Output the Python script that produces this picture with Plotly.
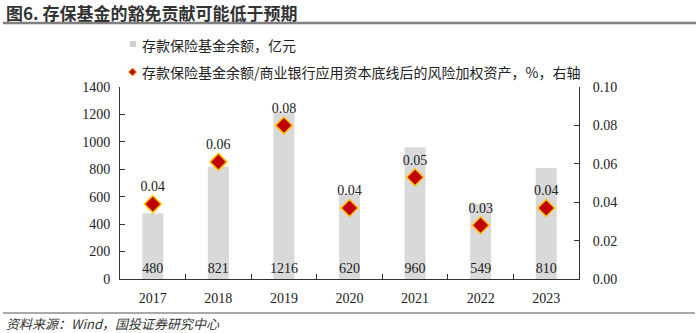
import plotly.graph_objects as go

# Data
years = ["2017", "2018", "2019", "2020", "2021", "2022", "2023"]
fund_balance = [480, 821, 1216, 620, 960, 549, 810]          # 亿元
fund_ratio = [0.039, 0.061, 0.080, 0.037, 0.053, 0.028, 0.037]  # %, right axis

bar_name = "存款保险基金余额，亿元"
ratio_name = "存款保险基金余额/商业银行应用资本底线后的风险加权资产，%，右轴"
title_text = "图6. 存保基金的豁免贡献可能低于预期"
source_text = "资料来源：Wind，国投证券研究中心"

W, H = 700, 333
ML, MR, MT, MB = 120, 121, 87, 54
PW = W - ML - MR
PH = H - MT - MB

BAR_COLOR = "#d9d9d9"
DIAMOND_FILL = "#c00000"
DIAMOND_EDGE = "#ffc000"


def px_x(p):
    return (p - ML) / PW


def px_y(p):
    return (H - MB - p) / PH


SERIF = "Liberation Serif, Times New Roman, serif"
CJK = "Noto Sans CJK SC, sans-serif"

fig = go.Figure()

fig.add_trace(go.Bar(
    x=years, y=fund_balance, name=bar_name,
    marker=dict(color=BAR_COLOR, line=dict(width=0)),
    width=0.32,
    text=[str(v) for v in fund_balance],
    textposition="inside", insidetextanchor="start", textangle=0,
    constraintext="none",
    textfont=dict(family=SERIF, size=14, color="#222222"),
    showlegend=False,
))

fig.add_trace(go.Scatter(
    x=years, y=fund_ratio, name=ratio_name, yaxis="y2",
    mode="markers+text",
    marker=dict(symbol="diamond", size=13, color=DIAMOND_FILL,
                line=dict(color=DIAMOND_EDGE, width=1.5)),
    texttemplate="%{y:.2f}", textposition="top center",
    textfont=dict(family=SERIF, size=14, color="#222222"),
    showlegend=False,
))

axis_common = dict(
    showgrid=False, zeroline=False,
    showline=True, linecolor="#333333", linewidth=1,
    ticks="inside", ticklen=5, tickcolor="#333333",
    tickfont=dict(family=SERIF, size=14, color="#222222"),
)

fig.update_layout(
    width=W, height=H,
    margin=dict(l=ML, r=MR, t=MT, b=MB, pad=0),
    paper_bgcolor="white", plot_bgcolor="white",
    showlegend=False,
    xaxis=dict(type="category", tickson="boundaries",
               ticklabelstandoff=6, **axis_common),
    yaxis=dict(range=[0, 1400], dtick=200, ticklabelstandoff=6,
               **axis_common),
    yaxis2=dict(range=[0, 0.10], dtick=0.02, tickformat=".2f",
                overlaying="y", side="right", ticklabelstandoff=10,
                **axis_common),
)

# Legend entries
legend_font = dict(family=CJK, size=14, color="#222222")
fig.add_shape(type="rect", xref="paper", yref="paper",
              x0=px_x(130), x1=px_x(136), y0=px_y(47), y1=px_y(41),
              fillcolor="#cfcfcf", line=dict(width=0))
fig.add_annotation(x=px_x(140), y=px_y(45), xref="paper", yref="paper",
                   xanchor="left", yanchor="middle", showarrow=False,
                   text=bar_name, font=legend_font)

cx, cy, r = 132.5, 72, 4
dpath = "M{},{} L{},{} L{},{} L{},{} Z".format(
    px_x(cx), px_y(cy - r), px_x(cx + r), px_y(cy),
    px_x(cx), px_y(cy + r), px_x(cx - r), px_y(cy))
fig.add_shape(type="path", xref="paper", yref="paper", path=dpath,
              fillcolor=DIAMOND_FILL, line=dict(color=DIAMOND_EDGE, width=1))
fig.add_annotation(x=px_x(140), y=px_y(72), xref="paper", yref="paper",
                   xanchor="left", yanchor="middle", showarrow=False,
                   text=ratio_name, font=legend_font)

# Title and source text
fig.add_annotation(
    x=px_x(4), y=px_y(12), xref="paper", yref="paper",
    xanchor="left", yanchor="middle", showarrow=False,
    text="<b>" + title_text + "</b>",
    font=dict(family=CJK, size=17, color="#333333"),
)
fig.add_annotation(
    x=px_x(4), y=px_y(323), xref="paper", yref="paper",
    xanchor="left", yanchor="middle", showarrow=False,
    text="<i>" + source_text + "</i>",
    font=dict(family=CJK, size=13, color="#333333"),
)

# Rules under the title and above the source
fig.add_shape(type="line", xref="paper", yref="paper",
              x0=px_x(3), x1=px_x(696), y0=px_y(23), y1=px_y(23),
              line=dict(color="#808080", width=2.5))
fig.add_shape(type="line", xref="paper", yref="paper",
              x0=px_x(3), x1=px_x(695), y0=px_y(313), y1=px_y(313),
              line=dict(color="#555555", width=1))

fig.write_html("out.html")
